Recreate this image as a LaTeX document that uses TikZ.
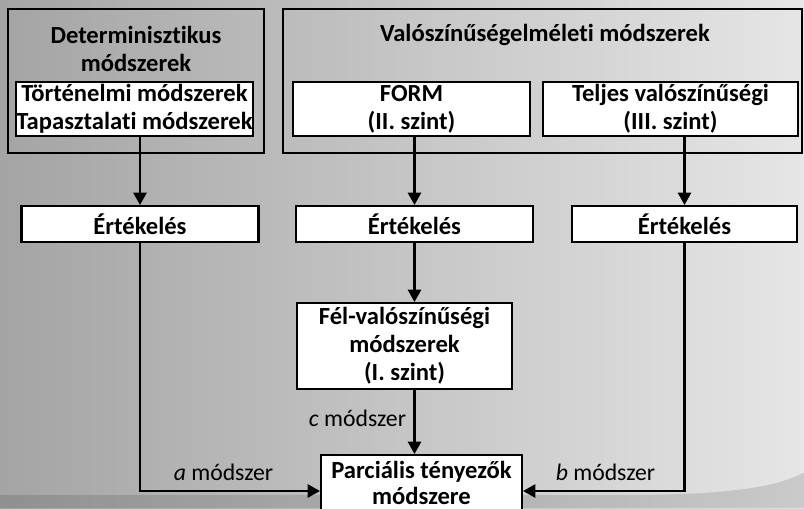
\documentclass[tikz,border=0pt]{standalone}
\usepackage{fontspec}
\setmainfont[Ligatures={NoCommon}]{Carlito}
\usetikzlibrary{positioning,arrows.meta}
\definecolor{bgLeft}{RGB}{164,164,164}
\definecolor{bgRight}{RGB}{230,230,230}
\tikzset{
    methodBox/.style={draw=black, line width=1.2pt, fill=white, align=center,
        font=\fontsize{14}{16}\selectfont\bfseries, inner sep=0pt},
    groupBox/.style={draw=black, line width=1.2pt, inner sep=0pt},
    groupTitle/.style={align=center, font=\fontsize{14}{16}\selectfont\bfseries},
    flow/.style={line width=1.2pt, -{Triangle[length=7pt,width=7.5pt]}},
    edgeText/.style={font=\fontsize{13.5}{16}\selectfont}
}
\begin{document}
\begin{tikzpicture}
        % background
        \fill[left color=bgLeft, right color=bgRight] (0,0) rectangle (16.08,-10.16);
        \fill[black, opacity=0.12] (0,-9.9) -- (12.5,-9.9) .. controls (14.8,-9.9) and (15.6,-9.7) .. (16.08,-9.45)
            -- (16.08,-10.16) -- (0,-10.16) -- cycle;
        \useasboundingbox (0,0) rectangle (16.08,-10.16);
        % method groups
        \node[groupBox, minimum width=5.12cm, minimum height=2.88cm] (det) at (2.72,-1.62) {};
        \node[groupTitle] (detTitle) at (2.72,-0.98) {Determinisztikus\\módszerek};
        \node[groupBox, minimum width=10.38cm, minimum height=2.88cm] (prob) at (10.85,-1.62) {};
        \node[groupTitle] (probTitle) at (10.9,-0.7) {Valószínűségelméleti módszerek};
        \node[methodBox, minimum width=4.74cm, minimum height=1.08cm] (hist) at (2.69,-2.18) {Történelmi módszerek\\Tapasztalati módszerek};
        \node[methodBox, minimum width=4.74cm, minimum height=1.08cm] (form) at (8.23,-2.18) {FORM\\(II. szint)};
        \node[methodBox, minimum width=5.1cm, minimum height=1.08cm] (full) at (13.41,-2.18) {Teljes valószínűségi\\(III. szint)};
        % evaluation row
        \node[methodBox, minimum width=4.74cm, minimum height=0.72cm] (evalA) at (2.8,-4.48) {Értékelés};
        \node[methodBox, minimum width=4.74cm, minimum height=0.72cm] (evalB) at (8.29,-4.48) {Értékelés};
        \node[methodBox, minimum width=4.5cm, minimum height=0.72cm] (evalC) at (13.69,-4.48) {Értékelés};
        \node[methodBox, minimum width=4.3cm, minimum height=1.72cm] (semi) at (8.09,-6.92) {Fél-valószínűségi\\módszerek\\(I. szint)};
        \node[methodBox, minimum width=4.02cm, minimum height=1.12cm, font=\fontsize{14}{15}\selectfont\bfseries] (pf) at (8.43,-9.66) {Parciális tényezők\\módszere};
        % connectors
        \draw[flow] (hist.south -| evalA.north) -- (evalA.north);
        \draw[flow] (form.south -| evalB.north) -- (evalB.north);
        \draw[flow] (full.south -| evalC.north) -- (evalC.north);
        \draw[flow] (evalB.south) -- (semi.north -| evalB.south);
        \draw[flow] (semi.south -| evalB.south) -- (pf.north -| evalB.south);
        \draw[flow] (evalA.south) |- ([yshift=-0.16cm]pf.west);
        \draw[flow] (evalC.south) |- ([yshift=-0.16cm]pf.east);
        % method labels
        \node[edgeText] (labA) at (4.47,-9.44) {\textit{a} módszer};
        \node[edgeText] (labB) at (12.11,-9.44) {\textit{b} módszer};
        \node[edgeText] (labC) at (7.15,-8.36) {\textit{c} módszer};
      \end{tikzpicture}
\end{document}
